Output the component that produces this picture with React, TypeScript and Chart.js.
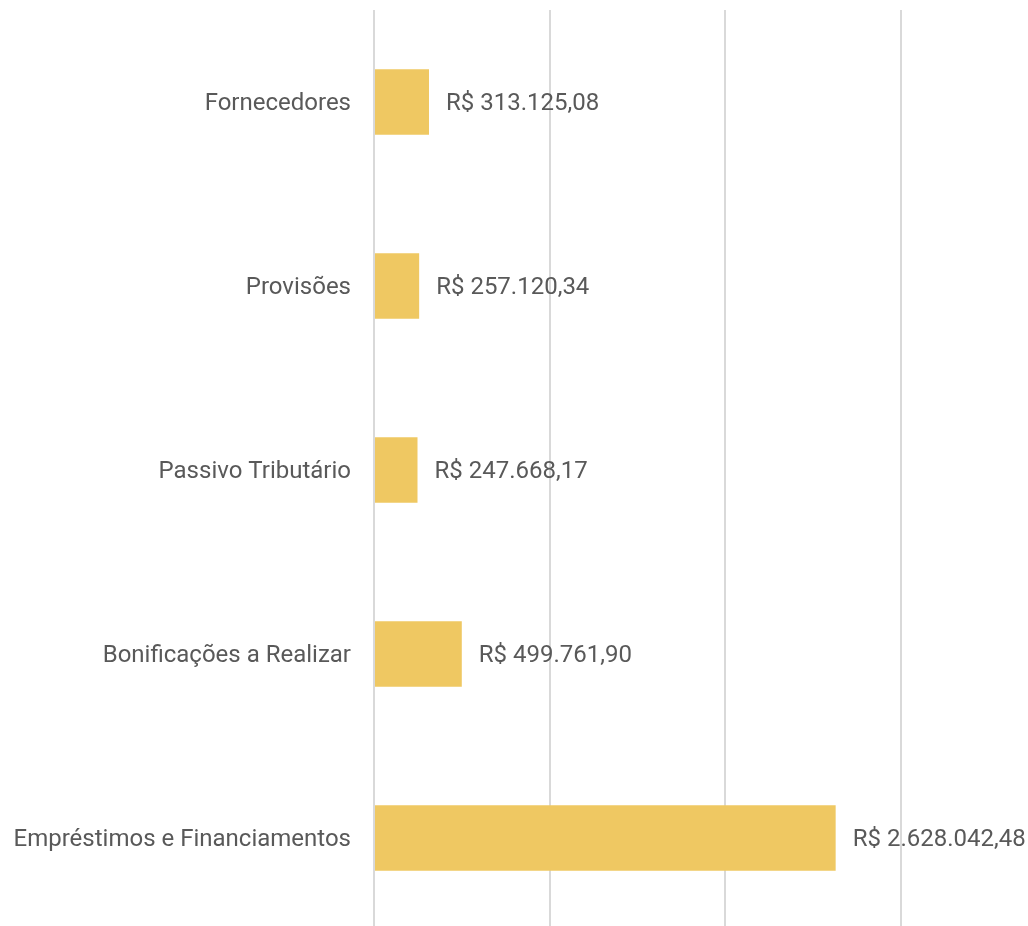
import React, { useEffect, useRef } from "react";
import { Chart, registerables } from "chart.js";

Chart.register(...registerables);

const categories: string[] = [
  "Fornecedores",
  "Provisões",
  "Passivo Tributário",
  "Bonificações a Realizar",
  "Empréstimos e Financiamentos",
];
const values: number[] = [313125.08, 257120.34, 247668.17, 499761.9, 2628042.48];
const xMin = 0;
const xMax = 3000000;
const xStep = 1000000;

const BAR_COLOR = "#EFC862";
const TEXT_COLOR = "#595959";
const GRID_COLOR = "#d9d9d9";
const FONT_FAMILY = "Roboto, 'Noto Sans', sans-serif";
const FONT_SIZE = 24;

function formatBRL(v: number): string {
  const fixed = v.toFixed(2);
  const [intPart, dec] = fixed.split(".");
  const withDots = intPart.replace(/\B(?=(\d{3})+(?!\d))/g, ".");
  return "R$ " + withDots + "," + dec;
}

const valueLabelPlugin = {
  id: "valueLabels",
  afterDatasetsDraw(chart: any) {
    const ctx = chart.ctx;
    const meta = chart.getDatasetMeta(0);
    ctx.save();
    ctx.font = `${FONT_SIZE}px ${FONT_FAMILY}`;
    ctx.fillStyle = TEXT_COLOR;
    ctx.textAlign = "left";
    ctx.textBaseline = "middle";
    meta.data.forEach((bar: any, i: number) => {
      ctx.fillText(formatBRL(values[i]), bar.x + 17, bar.y + 2);
    });
    ctx.restore();
  },
};

export default function App() {
  const canvasRef = useRef<HTMLCanvasElement | null>(null);

  useEffect(() => {
    if (!canvasRef.current) return;
    const chart = new Chart(canvasRef.current, {
      type: "bar",
      data: {
        labels: categories,
        datasets: [
          {
            data: values,
            backgroundColor: BAR_COLOR,
            borderWidth: 0,
            categoryPercentage: 1,
            barPercentage: 0.356,
          },
        ],
      },
      options: {
        indexAxis: "y",
        animation: false,
        responsive: false,
        maintainAspectRatio: false,
        layout: { padding: { top: 10, bottom: 10, right: 127, left: 0 } },
        plugins: {
          legend: { display: false },
          tooltip: { enabled: false },
        },
        scales: {
          x: {
            min: xMin,
            max: xMax,
            ticks: { display: false, stepSize: xStep },
            grid: { color: GRID_COLOR, lineWidth: 2, drawTicks: false },
            border: { display: false },
            afterFit: (scale: any) => {
              scale.height = 0;
              scale.paddingLeft = 0;
              scale.paddingRight = 0;
            },
          },
          y: {
            grid: { display: false, drawTicks: false },
            border: { display: false },
            ticks: {
              color: TEXT_COLOR,
              padding: 23,
              labelOffset: 2,
              font: { family: FONT_FAMILY, size: FONT_SIZE },
            },
            afterFit: (scale: any) => {
              scale.width = 374;
              scale.paddingTop = 0;
              scale.paddingBottom = 0;
            },
          },
        },
      },
      plugins: [valueLabelPlugin],
    });
    return () => chart.destroy();
  }, []);

  return (
    <div style={{ position: "fixed", left: 0, top: 0, width: 1028, height: 940 }}>
      <canvas ref={canvasRef} width={1028} height={940} style={{ width: 1028, height: 940 }} />
    </div>
  );
}
